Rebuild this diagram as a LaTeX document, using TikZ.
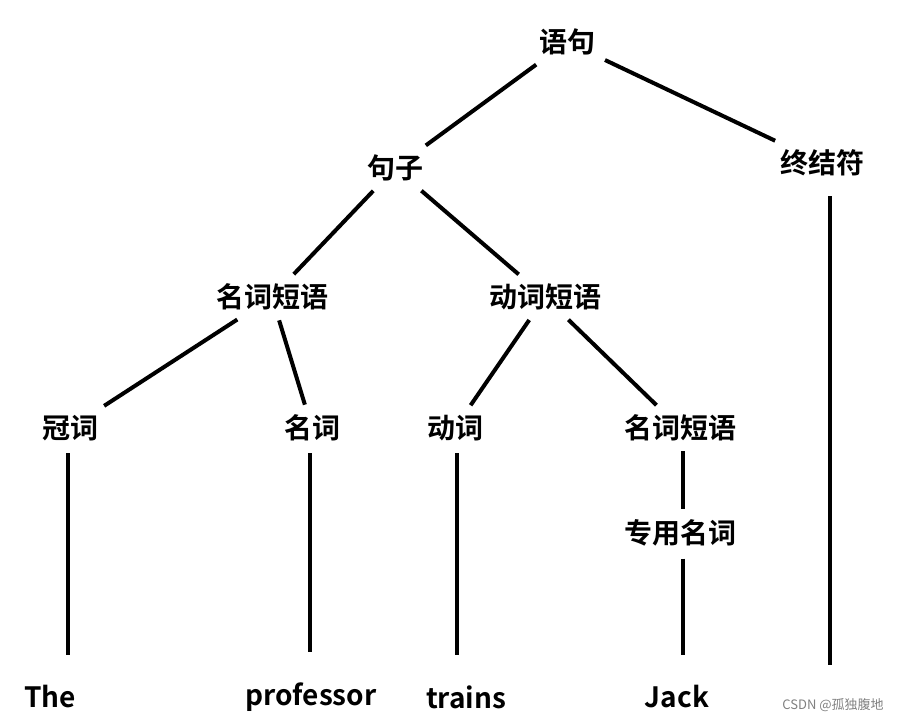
\documentclass[tikz,border=0pt]{standalone}
\usepackage{fontspec}
\setmainfont{Noto Sans CJK SC}[BoldFont={* Bold}]
\begin{document}
\begin{tikzpicture}[x=1pt, y=-1pt, main/.style = {font=\fontsize{28}{30}\selectfont\bfseries, inner sep=8pt}, edge/.style = {line width=4pt, shorten <=2pt, shorten >=2pt}, leaf/.style = {line width=4pt, shorten <=4pt, shorten >=22pt}]
            \useasboundingbox (0,0) rectangle (915,724);
            \node[main] (s) at (567,42) {语句};
            \node[main] (jz) at (395,168) {句子};
            \node[main] (zj) at (822,163) {终结符};
            \node[main] (np) at (272,297) {名词短语};
            \node[main] (vp) at (545,297) {动词短语};
            \node[main] (art) at (70,428) {冠词};
            \node[main] (n) at (312,428) {名词};
            \node[main] (v) at (455,428) {动词};
            \node[main] (np2) at (680,428) {名词短语};
            \node[main] (pn) at (680,533) {专用名词};
            \node[main] (the) at (50,697) {The};
            \node[main] (prof) at (311,697) {professor};
            \node[main] (tr) at (466,697) {trains};
            \node[main] (jack) at (677,697) {Jack};
            \node[font=\fontsize{13}{15}\selectfont, text=gray] (wm) at (833,705) {CSDN @孤独腹地};
            \draw[edge] (s) -- (jz);
            \draw[edge] (s) -- (zj);
            \draw[edge] (jz) -- (np);
            \draw[edge] (jz) -- (vp);
            \draw[edge] (np) -- (art);
            \draw[edge] (np) -- (n);
            \draw[edge] (vp) -- (v);
            \draw[edge] (vp) -- (np2);
            \draw[edge] (np2.south -| 683,0) -- (pn.north -| 683,0);
            \draw[leaf] (pn.south -| 683,0) -- (jack.north -| 683,0);
            \draw[leaf] (art.south -| 68,0) -- (the.north -| 68,0);
            \draw[leaf] (n.south -| 310,0) -- (prof.north -| 310,0);
            \draw[leaf] (v.south -| 457,0) -- (tr.north -| 457,0);
            \draw[line width=4pt] (zj.south) ++(8,12) coordinate (z1) -- (830,665);
        \end{tikzpicture}
\end{document}
